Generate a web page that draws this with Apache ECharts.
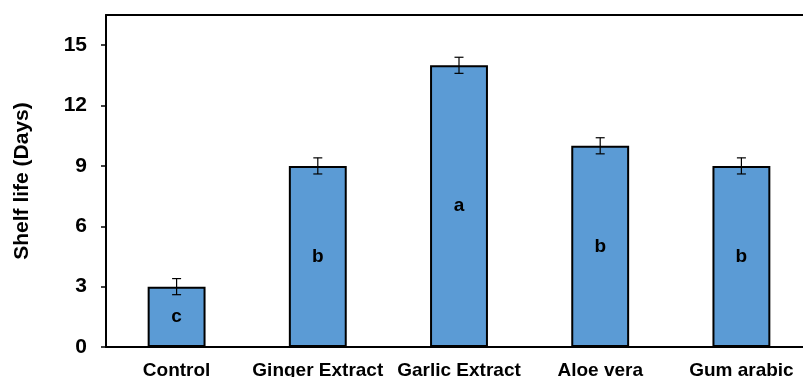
<!DOCTYPE html>
<html><head><meta charset="utf-8">
<script src="https://cdn.jsdelivr.net/npm/echarts@6/dist/echarts.min.js"></script>
<style>html,body{margin:0;padding:0;background:#fff}#c{width:803px;height:377px}</style>
</head><body><div id="c"></div>
<script>
const categories = ['Control', 'Ginger Extract', 'Garlic Extract', 'Aloe vera', 'Gum arabic'];
const shelfLife = [3, 9, 14, 10, 9];
const errors = [0.4, 0.4, 0.4, 0.4, 0.4];
const letters = ['c', 'b', 'a', 'b', 'b'];
const yTicks = [0, 3, 6, 9, 12, 15];

const chart = echarts.init(document.getElementById('c'));
const font = 'Liberation Sans, Arial, sans-serif';
chart.setOption({
  animation: false,
  grid: { left: 106, top: 15, bottom: 30, width: 706, containLabel: false, outerBoundsMode: 'none' },
  xAxis: [{
    type: 'category', data: categories,
    axisLine: { lineStyle: { color: '#000', width: 2 } },
    axisTick: { alignWithLabel: true, length: 4, lineStyle: { color: '#000', width: 1.5 } },
    axisLabel: { color: '#000', fontWeight: 'bold', fontSize: 19, fontFamily: font, margin: 14, interval: 0 }
  }, {
    type: 'category', data: categories, position: 'top',
    axisLine: { lineStyle: { color: '#000', width: 2 } },
    axisTick: { show: false }, axisLabel: { show: false }
  }],
  yAxis: {
    type: 'value', min: 0, max: 16.5,
    name: 'Shelf life (Days)', nameLocation: 'middle', nameGap: 73,
    nameTextStyle: { color: '#000', fontWeight: 'bold', fontSize: 21, fontFamily: font },
    axisLine: { show: true, lineStyle: { color: '#000', width: 2 } },
    axisTick: { show: true, length: 5, customValues: yTicks, lineStyle: { color: '#000', width: 1.5 } },
    axisLabel: { color: '#000', fontWeight: 'bold', fontSize: 21, fontFamily: font, margin: 19, customValues: yTicks },
    splitLine: { show: false }
  },
  series: [{
    type: 'bar', data: shelfLife, barWidth: '41%',
    itemStyle: { color: '#5B9BD5', borderColor: '#000', borderWidth: 2 },
    label: { show: true, position: 'inside', formatter: p => letters[p.dataIndex],
      color: '#000', fontWeight: 'bold', fontSize: 19, fontFamily: font }
  }, {
    type: 'custom',
    data: shelfLife.map((v, i) => [i, v - errors[i], v + errors[i]]),
    renderItem: (params, api) => {
      const lo = api.coord([api.value(0), api.value(1)]);
      const hi = api.coord([api.value(0), api.value(2)]);
      const x = lo[0], w = 4.5;
      const st = { stroke: '#000', lineWidth: 1.2 };
      return { type: 'group', children: [
        { type: 'line', shape: { x1: x, y1: lo[1], x2: x, y2: hi[1] }, style: st },
        { type: 'line', shape: { x1: x - w, y1: lo[1], x2: x + w, y2: lo[1] }, style: st },
        { type: 'line', shape: { x1: x - w, y1: hi[1], x2: x + w, y2: hi[1] }, style: st }
      ]};
    },
    z: 10
  }]
});
</script></body></html>
